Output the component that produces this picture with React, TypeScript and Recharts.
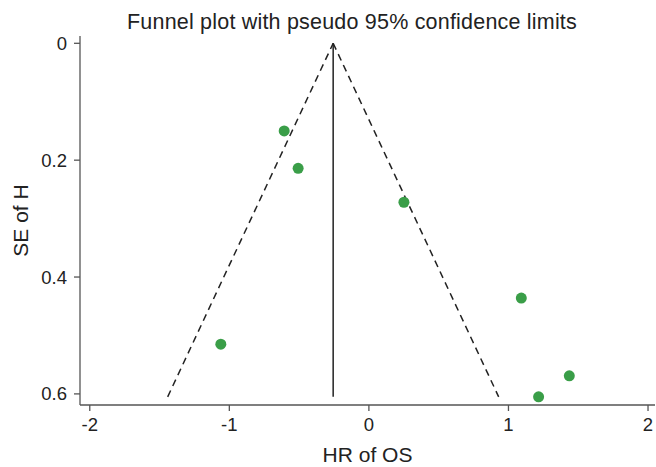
import React from 'react';
import { ScatterChart, Scatter, XAxis, YAxis } from 'recharts';

// Study estimates: HR of OS (log scale) vs standard error
const studyHR = [-0.607, -0.507, 0.251, -1.061, 1.092, 1.436, 1.216];
const studySE = [0.150, 0.214, 0.272, 0.515, 0.436, 0.569, 0.605];

// Funnel definition
const pooledEffect = -0.256;
const maxSE = 0.605;
const z95 = 1.96;

const xTicks = [-2, -1, 0, 1, 2];
const yTicks = [0, 0.2, 0.4, 0.6];

const studies = studyHR.map((x, i) => ({ x, y: studySE[i] }));
const leftLimit = [
  { x: pooledEffect - z95 * maxSE, y: maxSE },
  { x: pooledEffect, y: 0 },
];
const rightLimit = [
  { x: pooledEffect, y: 0 },
  { x: pooledEffect + z95 * maxSE, y: maxSE },
];
const centerLine = [
  { x: pooledEffect, y: 0 },
  { x: pooledEffect, y: maxSE },
];

const FONT = '"Liberation Sans", Arial, Helvetica, sans-serif';
const Empty = () => <g />;

export default function App() {
  return (
    <div style={{ position: 'absolute', left: 0, top: 0, width: 656, height: 467, fontFamily: FONT }}>
      <div
        style={{
          position: 'absolute',
          left: 0,
          width: 704,
          top: 10,
          textAlign: 'center',
          fontSize: 21.5,
          letterSpacing: 0.2,
          color: '#222',
          whiteSpace: 'nowrap',
          lineHeight: 'normal',
        }}
      >
        Funnel plot with pseudo 95% confidence limits
      </div>
      <ScatterChart width={656} height={467} margin={{ top: 36, right: 1, bottom: 0, left: 0 }}>
        <XAxis
          type="number"
          dataKey="x"
          domain={[-2.07, 2.05]}
          ticks={xTicks}
          allowDataOverflow
          height={62}
          tickSize={6}
          tickMargin={7}
          stroke="#555"
          strokeWidth={1.3}
          tick={{ fill: '#222', fontSize: 18.5, fontFamily: FONT }}
          label={{ value: 'HR of OS', position: 'insideBottom', offset: 5, fill: '#222', fontSize: 21, fontFamily: FONT }}
        />
        <YAxis
          type="number"
          dataKey="y"
          reversed
          domain={[-0.0125, 0.619]}
          ticks={yTicks}
          allowDataOverflow
          width={80}
          tickSize={6}
          tickMargin={7}
          stroke="#555"
          strokeWidth={1.3}
          tick={{ fill: '#222', fontSize: 18.5, fontFamily: FONT }}
          label={{ value: 'SE of H', angle: -90, position: 'center', dx: -19, fill: '#222', fontSize: 21, fontFamily: FONT }}
        />
        <Scatter
          data={leftLimit}
          line={{ stroke: '#222', strokeWidth: 1.5, strokeDasharray: '7 5' }}
          shape={Empty}
          isAnimationActive={false}
        />
        <Scatter
          data={rightLimit}
          line={{ stroke: '#222', strokeWidth: 1.5, strokeDasharray: '7 5' }}
          shape={Empty}
          isAnimationActive={false}
        />
        <Scatter
          data={centerLine}
          line={{ stroke: '#222', strokeWidth: 1.5 }}
          shape={Empty}
          isAnimationActive={false}
        />
        <Scatter
          data={studies}
          shape={(p: any) => <circle cx={p.cx} cy={p.cy} r={5.5} fill="#3a9e48" />}
          isAnimationActive={false}
        />
      </ScatterChart>
    </div>
  );
}
